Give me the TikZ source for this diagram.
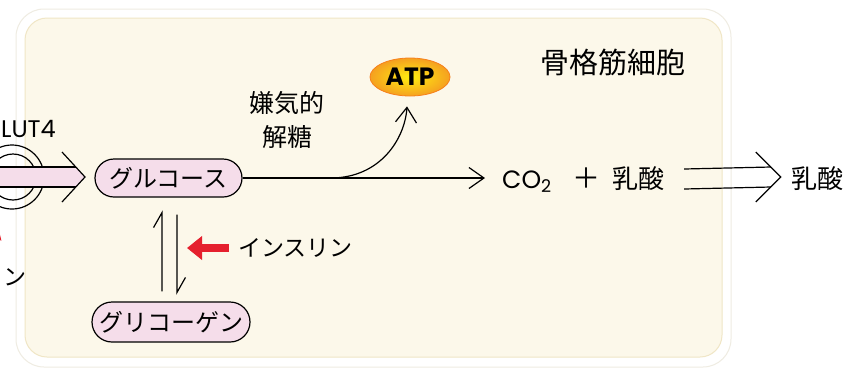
\documentclass[tikz,border=0pt]{standalone}
\usepackage{fontspec}
\setmainfont{Noto Sans CJK JP}
\newfontfamily\latinf{Poppins}
\usetikzlibrary{arrows.meta,calc,shapes.geometric}
\definecolor{cellfill}{HTML}{FCF8EA}
\definecolor{cellline}{HTML}{F0E6C6}
\definecolor{ringline}{HTML}{EFECE2}
\definecolor{pinkfill}{HTML}{F5DDEA}
\definecolor{insred}{HTML}{E5202E}
\definecolor{atpyellow}{HTML}{FFEE10}
\definecolor{atporange}{HTML}{F5A020}
\tikzset{
  ln/.style={line width=1.2pt, black},
  pill/.style={draw=black, line width=1.2pt, fill=pinkfill, rounded corners=19pt,
    minimum height=38pt, inner sep=0pt, font=\fontsize{24}{26}\selectfont},
  jtxt/.style={inner sep=0pt, font=\fontsize{25}{34}\selectfont},
  chev/.style={-{Straight Barb[length=15pt,width=21pt,line width=1.2pt]}},
  redarrow/.style={insred, line width=8pt, -{Triangle[length=15pt,width=23pt]}},
}
\begin{document}
\begin{tikzpicture}[x=1pt,y=-1pt]
\useasboundingbox (0,0) rectangle (856,376);
\fill[white] (0,0) rectangle (856,376);
\draw[ringline, line width=1pt, fill=white, rounded corners=28pt] (16,9) rectangle (731,367);
\draw[cellline, line width=1pt, fill=cellfill, rounded corners=22pt] (25,18) rectangle (722,357);

% GLUT4 channel and entry arrow
\draw[ln] (12,177) circle[radius=32];
\draw[ln] (13,177) circle[radius=23];
\fill[pinkfill] (-5,167) -- (76,167) -- (85,177) -- (76,187) -- (-5,187) -- cycle;
\draw[ln] (-5,167) -- (76,167);
\draw[ln] (-5,187) -- (76,187);
\draw[ln] (62,152) -- (85,177) -- (62,202);
\node[anchor=east, inner sep=0pt, font=\latinf\fontsize{24}{26}\selectfont] (glut) at (56,129) {GLUT4};
\node[anchor=east, jtxt, font=\fontsize{23}{26}\selectfont] (insl) at (27,277) {インスリン};
\draw[redarrow] (-22,262) -- (-3,222);

% nodes
\node[pill, minimum width=147pt] (glc) at (168.5,178) {グルコース};
\node[pill, minimum width=158pt, minimum height=40pt, rounded corners=20pt] (gly) at (171,322) {グリコーゲン};
\node[ellipse, minimum width=80pt, minimum height=38pt, inner sep=0pt,
      inner color=atpyellow, outer color=atporange, draw=atporange!80!red, line width=0.8pt,
      font=\latinf\bfseries\fontsize{25}{26}\selectfont] (atp) at (410,77) {ATP};
\node[jtxt, align=center] (anaer) at (287,120) {嫌気的\\解糖};
\node[jtxt, font=\fontsize{29}{30}\selectfont] (cell) at (613,62) {骨格筋細胞};
\node[anchor=base west, inner sep=0pt, font=\latinf\fontsize{25}{28}\selectfont] (co2) at (502,188) {CO\textsubscript{2}};
\node[jtxt, font=\fontsize{28}{28}\selectfont] (plus) at (586,178) {＋};
\node[jtxt, font=\fontsize{26}{28}\selectfont] (lac1) at (638,179) {乳酸};
\node[jtxt, font=\fontsize{26}{28}\selectfont] (lac2) at (817,179) {乳酸};
\node[jtxt, anchor=west, font=\fontsize{23}{26}\selectfont] (ins) at (238,248) {インスリン};

% connectors
\coordinate (br) at ($(glc.east)+(88,0)$);
\draw[ln, chev] (glc.east) -- ($(co2.west |- glc.east)+(-17,0)$);
\draw[ln, chev] (br) .. controls ($(br)+(50,0)$) and ($(atp.south)+(-5,42)$) .. ($(atp.south)+(-3,10)$);
\coordinate (upS) at ($(gly.north)+(-9,-10)$);
\coordinate (upE) at ($(glc.south)+(-6.5,15)$);
\coordinate (dnS) at ($(glc.south)+(8.5,17)$);
\coordinate (dnE) at ($(gly.north)+(6,-9)$);
\draw[ln, line join=miter] (upS) -- (upE) -- ++(-8.5,15);
\draw[ln, line join=miter] (dnS) -- (dnE) -- ++(8.5,-15);
\draw[redarrow] ($(ins.west)+(-9,0)$) -- ($(ins.west)+(-51,0)$);

% double arrow
\coordinate (dtip) at ($(lac2.west)+(-10,-2)$);
\draw[ln] ($(lac1.east)+(20,-10)$) -- ($(dtip)+(-10,-10)$);
\draw[ln] ($(lac1.east)+(20,10)$) -- ($(dtip)+(-10,10)$);
\draw[ln, line join=miter] ($(dtip)+(-25,-25)$) -- (dtip) -- ($(dtip)+(-25,25)$);
\end{tikzpicture}
\end{document}
